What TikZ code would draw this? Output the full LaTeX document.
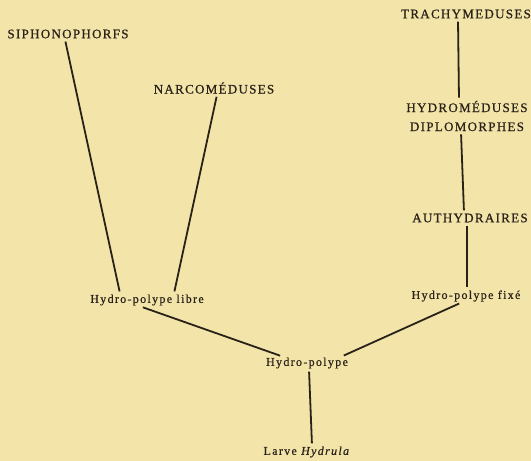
\documentclass[tikz,border=0pt]{standalone}
\usepackage{fontspec}
\setmainfont{Liberation Serif}
\newfontfamily\capsfont[LetterSpace=10,FakeBold=0.6]{Liberation Serif}
\newfontfamily\stagefont[LetterSpace=11,FakeBold=0.5]{Liberation Serif}
\usetikzlibrary{positioning}
\definecolor{paper}{RGB}{243,228,170}
\definecolor{ink}{RGB}{40,34,24}

\begin{document}
\begin{tikzpicture}[
  x=1pt, y=-1pt,
  group/.style={
    font=\capsfont\fontsize{13}{19}\selectfont,
    text=ink, inner sep=1pt, align=center
  },
  stage/.style={
    font=\stagefont\fontsize{12}{14}\selectfont,
    text=ink, inner sep=1pt
  },
  branch/.style={draw=ink, line width=1.8pt, shorten <=2pt, shorten >=2pt}
]
\fill[paper] (0,0) rectangle (531,461);
\useasboundingbox (0,0) rectangle (531,461);

% Groupes
\node[group] (siph)   at (68,34)   {SIPHONOPHORFS};
\node[group] (narco)  at (214,88)  {NARCOMÉDUSES};
\node[group] (trachy) at (466,14)  {TRACHYMEDUSES};
\node[group] (diplo)  at (467,116) {HYDROMÉDUSES\\DIPLOMORPHES};
\node[group] (auth)   at (470,218) {AUTHYDRAIRES};

% Stades
\node[stage] (libre)  at (147,300) {Hydro-polype libre};
\node[stage] (fixe)   at (466,296) {Hydro-polype fixé};
\node[stage] (polype) at (307,363) {Hydro-polype};
\node[stage] (larve)  at (307,452) {Larve \textit{Hydrula}};

% Branches
\draw[branch] ([xshift=-3pt]siph.south) -- ([xshift=-27pt]libre.north);
\draw[branch] ([xshift=3pt]narco.south) -- ([xshift=27pt]libre.north);
\draw[branch] ([xshift=-8pt]trachy.south) -- ([xshift=-8pt]diplo.north);
\draw[branch] ([xshift=-6pt]diplo.south) -- ([xshift=-6pt]auth.north);
\draw[branch] ([xshift=-3pt]auth.south) -- ([xshift=1pt]fixe.north);
\draw[branch] ([xshift=-6pt]libre.south) -- ([xshift=-25pt]polype.north);
\draw[branch] ([xshift=-5pt]fixe.south) -- ([xshift=35pt]polype.north);
\draw[branch] ([xshift=2pt]polype.south) -- ([xshift=5pt]larve.north);

\end{tikzpicture}
\end{document}
